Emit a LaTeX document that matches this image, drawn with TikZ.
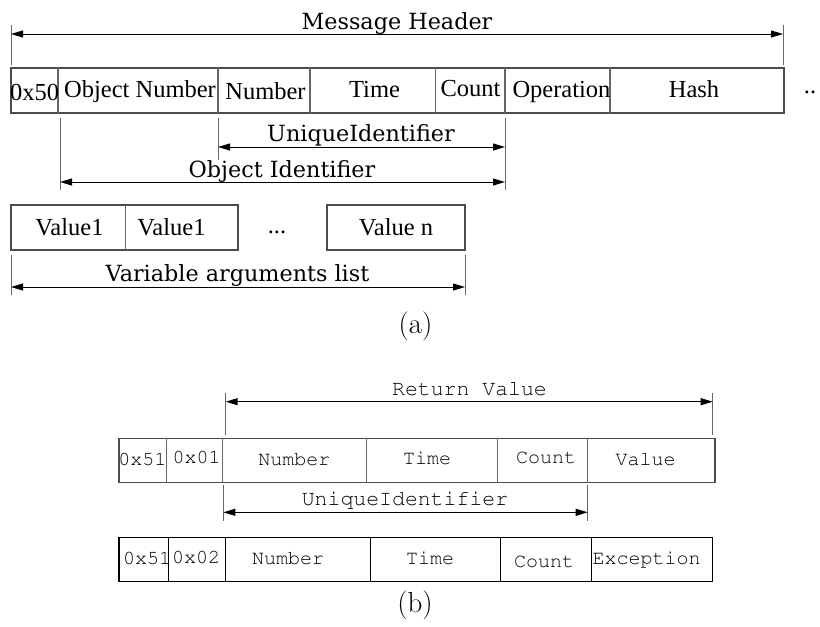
\documentclass[tikz,border=0pt]{standalone}
\usepackage[T1]{fontenc}
\usepackage{fontspec}
\usetikzlibrary{arrows.meta}
\newfontfamily\dvserif{DejaVu Serif}
\newfontfamily\libserif{Liberation Serif}
\newcommand\courfont{\fontencoding{T1}\fontfamily{pcr}\selectfont}
\tikzset{
  box/.style={draw=black!70, line width=1.1pt},
  boxk/.style={draw=black, line width=1.1pt},
  sep/.style={draw=black!60, line width=1.1pt},
  tick/.style={draw=black!60, line width=1pt},
  dim/.style={draw=black, line width=1pt, {Triangle[length=12pt,width=7pt]}-{Triangle[length=12pt,width=7pt]}},
  lblA/.style={inner sep=0pt, anchor=base, font=\dvserif\fontsize{22.3}{26}\selectfont},
  cellA/.style={inner sep=0pt, anchor=base, font=\libserif\fontsize{24.5}{29}\selectfont},
  cellB/.style={inner sep=0pt, anchor=base, font=\courfont\fontsize{20}{24}\selectfont},
  lblB/.style={inner sep=0pt, anchor=base, font=\courfont\fontsize{21.5}{26}\selectfont},
  capt/.style={inner sep=0pt, font=\fontsize{29}{34}\selectfont}
}
\begin{document}
\begin{tikzpicture}[x=1pt,y=-1pt]
\useasboundingbox (0,0) rectangle (820,627);
% ---------- (a) ----------
% Message Header
\coordinate (mhL0) at (11,25); \coordinate (mhL1) at (11,65);
\coordinate (mhR0) at (783,25); \coordinate (mhR1) at (783,65);
\coordinate (mhA) at (11,34); \coordinate (mhB) at (783,34);
\draw[tick] (mhL0) -- (mhL1);
\draw[tick] (mhR0) -- (mhR1);
\draw[dim] (mhA) -- (mhB);
\node[lblA] (mh) at (397,29) {Message Header};
% header row
\draw[box] (11,68) rectangle (784,113);
\foreach \x in {58,218,310,435.5,505,610} \draw[sep] (\x,68) -- (\x,113);
\node[cellA] (c0x50) at (34.5,100) {0x50};
\node[cellA] (cobj) at (140,97.5) {Object Number};
\node[cellA] (cnum) at (265.5,99.5) {Number};
\node[cellA] (ctime) at (374.5,97) {Time};
\node[cellA] (ccount) at (470.5,96) {Count};
\node[cellA] (cop) at (561.5,97.5) {Operation};
\node[cellA] (chash) at (694,97) {Hash};
\node[cellA] (cdots) at (810,93) {..};
% UniqueIdentifier (a)
\coordinate (uaL0) at (218,118); \coordinate (uaL1) at (218,160);
\coordinate (uaR0) at (505,118); \coordinate (uaR1) at (505,190);
\coordinate (uaA) at (218,147); \coordinate (uaB) at (505,147);
\draw[tick] (uaL0) -- (uaL1);
\draw[tick] (uaR0) -- (uaR1);
\draw[dim] (uaA) -- (uaB);
\node[lblA] (ua) at (361,141) {UniqueIdentifier};
% Object Identifier
\coordinate (oiL0) at (60,118); \coordinate (oiL1) at (60,190);
\coordinate (oiA) at (60,182); \coordinate (oiB) at (505,182);
\draw[tick] (oiL0) -- (oiL1);
\draw[dim] (oiA) -- (oiB);
\node[lblA] (oi) at (282,177) {Object Identifier};
% values
\draw[box] (11,205) rectangle (238,250);
\draw[sep] (125.7,205) -- (125.7,250);
\draw[box] (327,205) rectangle (465,250);
\node[cellA] (v1) at (69.5,235) {Value1};
\node[cellA] (v2) at (171.5,235) {Value1};
\node[cellA] (vdots) at (277,233) {...};
\node[cellA] (vn) at (396,235) {Value n};
% Variable arguments list
\coordinate (vaL0) at (11,255); \coordinate (vaL1) at (11,295);
\coordinate (vaR0) at (465,255); \coordinate (vaR1) at (465,295);
\coordinate (vaA) at (11,287); \coordinate (vaB) at (465,287);
\draw[tick] (vaL0) -- (vaL1);
\draw[tick] (vaR0) -- (vaR1);
\draw[dim] (vaA) -- (vaB);
\node[lblA] (va) at (237.5,281) {Variable arguments list};
\node[capt] (capa) at (415.5,326) {(a)};
% ---------- (b) ----------
% Return Value
\coordinate (rvL0) at (225.7,393); \coordinate (rvL1) at (225.7,435);
\coordinate (rvR0) at (712.7,393); \coordinate (rvR1) at (712.7,435);
\coordinate (rvA) at (225.7,401.7); \coordinate (rvB) at (712.7,401.7);
\draw[tick] (rvL0) -- (rvL1);
\draw[tick] (rvR0) -- (rvR1);
\draw[dim] (rvA) -- (rvB);
\node[lblB] (rv) at (469.5,395) {Return Value};
% row b1
\draw[box] (119,438.3) rectangle (715,482.7);
\foreach \x in {166.7,222.3,366.7,497.3,587.3} \draw[sep] (\x,438.3) -- (\x,482.7);
\node[cellB] (b1a) at (142.3,465) {0x51};
\node[cellB] (b1b) at (196.7,463) {0x01};
\node[cellB] (b1c) at (294.3,465.7) {Number};
\node[cellB] (b1d) at (427,464) {Time};
\node[cellB] (b1e) at (546,463) {Count};
\node[cellB] (b1f) at (645.5,465.7) {Value};
% UniqueIdentifier (b)
\coordinate (ubL0) at (223.3,485); \coordinate (ubL1) at (223.3,521);
\coordinate (ubR0) at (587.7,485); \coordinate (ubR1) at (587.7,521);
\coordinate (ubA) at (223.3,512.3); \coordinate (ubB) at (587.7,512.3);
\draw[tick] (ubL0) -- (ubL1);
\draw[tick] (ubR0) -- (ubR1);
\draw[dim] (ubA) -- (ubB);
\node[lblB] (ub) at (405,505) {UniqueIdentifier};
% row b2
\draw[boxk] (119,537.7) rectangle (712.7,581.7);
\foreach \x in {168.3,225.7,370.7,500.7,591.3} \draw[boxk] (\x,537.7) -- (\x,581.7);
\node[cellB] (b2a) at (147,564.3) {0x51};
\node[cellB] (b2b) at (196,563) {0x02};
\node[cellB] (b2c) at (288,564) {Number};
\node[cellB] (b2d) at (430,564) {Time};
\node[cellB] (b2e) at (544,567) {Count};
\node[cellB] (b2f) at (646.7,564) {Exception};
\node[capt] (capb) at (415,605) {(b)};
\end{tikzpicture}
\end{document}
